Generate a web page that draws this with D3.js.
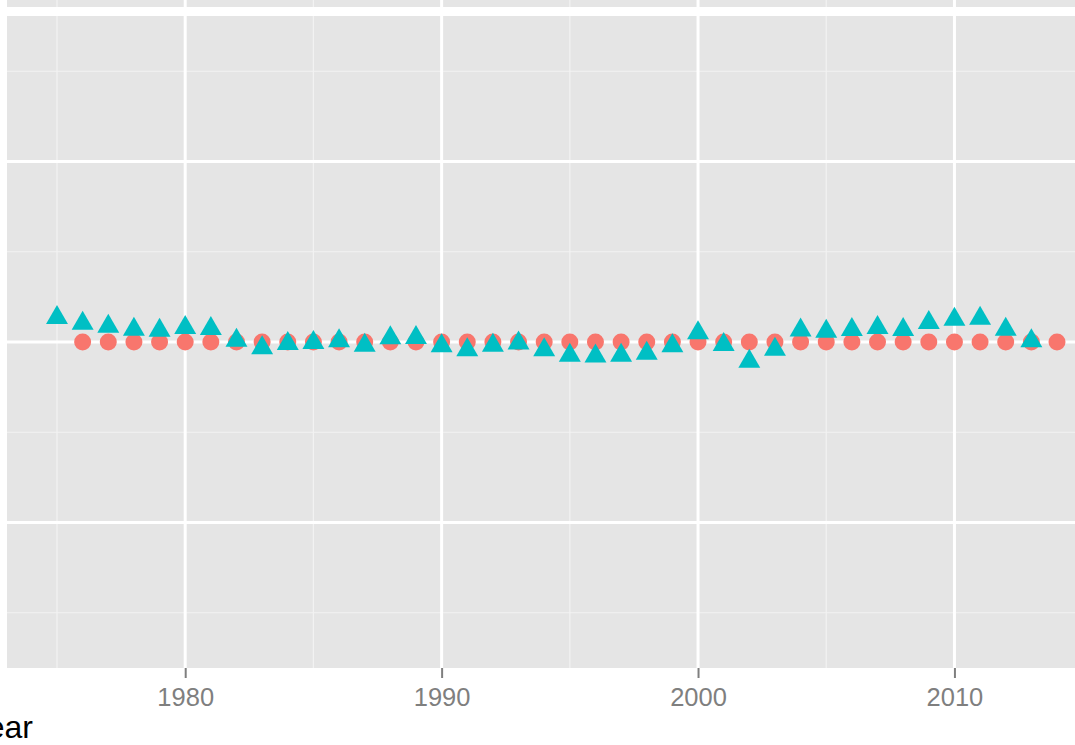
<!DOCTYPE html>
<html><head><meta charset="utf-8">
<script src="https://cdn.jsdelivr.net/npm/d3@7/dist/d3.min.js"></script>
<style>html,body{margin:0;padding:0;background:#fff;overflow:hidden}svg{display:block}</style>
</head><body>
<script>
const years = [1975,1976,1977,1978,1979,1980,1981,1982,1983,1984,1985,1986,1987,1988,1989,1990,1991,1992,1993,1994,1995,1996,1997,1998,1999,2000,2001,2002,2003,2004,2005,2006,2007,2008,2009,2010,2011,2012,2013,2014];
const circleSeries = [null,0,0,0,0,0,0,0,0,0,0,0,0,0,0,0,0,0,0,0,0,0,0,0,0,0,0,0,0,0,0,0,0,0,0,0,0,0,0,0];
const triangleSeries = [0.135,0.103,0.086,0.070,0.064,0.079,0.074,0.009,-0.033,-0.009,-0.004,0.006,-0.019,0.022,0.024,-0.022,-0.044,-0.019,-0.006,-0.044,-0.074,-0.078,-0.074,-0.063,-0.022,0.050,-0.015,-0.107,-0.041,0.066,0.059,0.068,0.079,0.069,0.107,0.125,0.131,0.070,0.006,null];
const xTicks = [1980,1990,2000,2010];
const xMinor = [1975,1985,1995,2005,2015];
const yMajor = [-1,0,1];
const yMinor = [-1.5,-0.5,0.5,1.5];
const xTitle = "year";

const W = 1075, H = 745;
const svg = d3.select("body").append("svg").attr("width", W).attr("height", H);
const x = d3.scaleLinear().domain([1973.05, 2015.95]).range([7, 1107]);
const y = d3.scaleLinear().domain([-1.806, 1.806]).range([668, 16]);

// top (cropped) facet panel
const topPanel = svg.append("g");
topPanel.append("rect").attr("x", 7).attr("y", -60).attr("width", 1100).attr("height", 67).attr("fill", "#e5e5e5");
topPanel.selectAll("line.mn").data(xMinor).join("line").attr("x1", d => x(d)).attr("x2", d => x(d)).attr("y1", -60).attr("y2", 7).attr("stroke", "#f2f2f2").attr("stroke-width", 1.2);
topPanel.selectAll("line.mj").data(xTicks).join("line").attr("x1", d => x(d)).attr("x2", d => x(d)).attr("y1", -60).attr("y2", 7).attr("stroke", "#fff").attr("stroke-width", 3);

// main panel
const g = svg.append("g");
g.append("rect").attr("x", 7).attr("y", 16).attr("width", 1100).attr("height", 652).attr("fill", "#e5e5e5");
g.selectAll("line.ymn").data(yMinor).join("line").attr("x1", 7).attr("x2", 1107).attr("y1", d => y(d)).attr("y2", d => y(d)).attr("stroke", "#f2f2f2").attr("stroke-width", 1.2);
g.selectAll("line.xmn").data(xMinor).join("line").attr("x1", d => x(d)).attr("x2", d => x(d)).attr("y1", 16).attr("y2", 668).attr("stroke", "#f2f2f2").attr("stroke-width", 1.2);
g.selectAll("line.ymj").data(yMajor).join("line").attr("x1", 7).attr("x2", 1107).attr("y1", d => y(d)).attr("y2", d => y(d)).attr("stroke", "#fff").attr("stroke-width", 3);
g.selectAll("line.xmj").data(xTicks).join("line").attr("x1", d => x(d)).attr("x2", d => x(d)).attr("y1", 16).attr("y2", 668).attr("stroke", "#fff").attr("stroke-width", 3);

// x axis
const xAxis = d3.axisBottom(x).tickValues(xTicks).tickFormat(d3.format("d")).tickSize(10).tickPadding(10);
const ax = svg.append("g").attr("transform", "translate(0,668)").call(xAxis);
ax.select(".domain").remove();
ax.selectAll(".tick line").attr("stroke", "#7f7f7f").attr("stroke-width", 2);
ax.selectAll(".tick text").attr("fill", "#7f7f7f").attr("font-family", "Liberation Sans, Arial, sans-serif").attr("font-size", 25.5);

svg.append("text").attr("x", 33).attr("y", 738).attr("text-anchor", "end")
  .attr("font-family", "Liberation Sans, Arial, sans-serif").attr("font-size", 32).attr("fill", "#000").text(xTitle);

// points
const circ = years.map((yr, i) => ({yr, v: circleSeries[i]})).filter(d => d.v !== null);
const tri = years.map((yr, i) => ({yr, v: triangleSeries[i]})).filter(d => d.v !== null);
g.selectAll("circle.pt").data(circ).join("circle").attr("cx", d => x(d.yr)).attr("cy", d => y(d.v)).attr("r", 8.5).attr("fill", "#F8766D");
const triSize = Math.pow(19/3, 2) * 3 * Math.sqrt(3);
const triPath = d3.symbol().type(d3.symbolTriangle).size(triSize)();
g.selectAll("path.tri").data(tri).join("path").attr("d", triPath).attr("transform", d => `translate(${x(d.yr)},${y(d.v)})`).attr("fill", "#00BFC4");
</script>
</body></html>
